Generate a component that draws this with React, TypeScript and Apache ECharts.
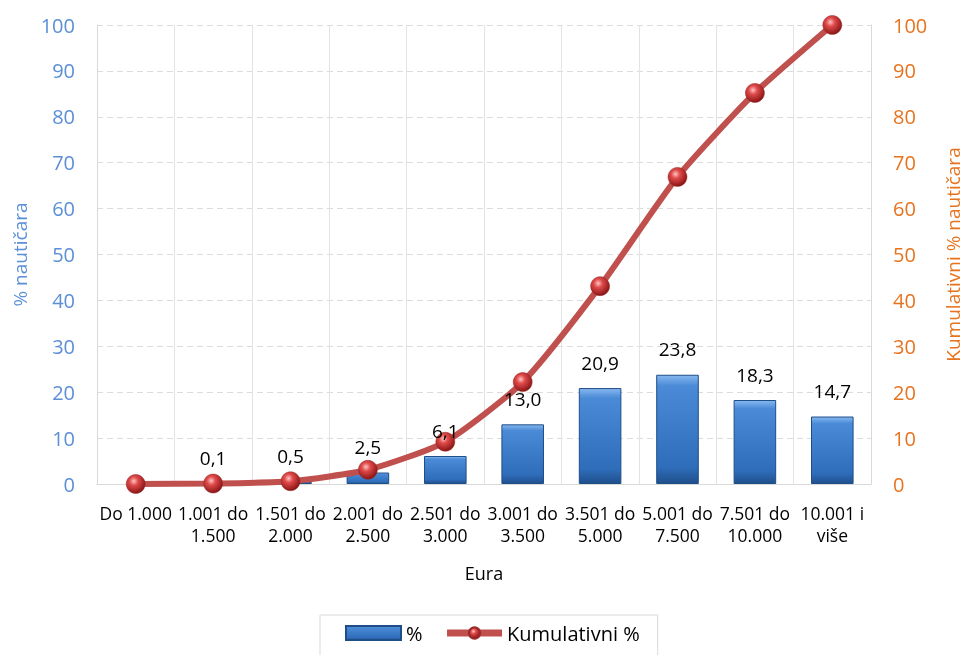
import React, { useEffect, useRef } from "react";
import * as echarts from "echarts";

const categories = [
  "Do 1.000",
  "1.001 do\n1.500",
  "1.501 do\n2.000",
  "2.001 do\n2.500",
  "2.501 do\n3.000",
  "3.001 do\n3.500",
  "3.501 do\n5.000",
  "5.001 do\n7.500",
  "7.501 do\n10.000",
  "10.001 i\nviše",
];
const percentValues = [0.0, 0.1, 0.5, 2.5, 6.1, 13.0, 20.9, 23.8, 18.3, 14.7];
const cumulativeValues = [0.0, 0.1, 0.6, 3.1, 9.2, 22.2, 43.1, 66.9, 85.2, 100.0];
const showBarLabel = [false, true, true, true, true, true, true, true, true, true];

const FONT = "'Open Sans', 'Noto Sans', sans-serif";

export default function App() {
  const ref = useRef<HTMLDivElement>(null);
  useEffect(() => {
    if (!ref.current) return;
    const chart = echarts.init(ref.current, null, { renderer: "svg" });
    const barGradient = new echarts.graphic.LinearGradient(0, 0, 0, 1, [
      { offset: 0, color: "#86B8F0" },
      { offset: 0.1, color: "#4A8AD6" },
      { offset: 0.85, color: "#2F6DBA" },
      { offset: 1, color: "#1F4F8C" },
    ]);
    const sphere = new echarts.graphic.RadialGradient(0.4, 0.35, 0.65, [
      { offset: 0, color: "#FFC4C4" },
      { offset: 0.35, color: "#E04A4A" },
      { offset: 1, color: "#8A1515" },
    ]);
    const labelFormatter = (p: any) => p.value.toFixed(1).replace(".", ",");
    chart.setOption({
      animation: false,
      textStyle: { fontFamily: FONT },
      grid: { left: 97, right: 94, top: 25, bottom: 171 },
      legend: {
        top: 615,
        left: 320,
        padding: [8, 18, 30, 25],
        borderColor: "#D9D9D9",
        borderWidth: 1,
        itemGap: 21,
        itemWidth: 55,
        itemHeight: 14,
        textStyle: { fontSize: 20, color: "#000", fontFamily: FONT },
        data: [
          { name: "%", icon: "rect" },
          { name: "Kumulativni %", lineStyle: { width: 7, color: "#C0504D" } },
        ],
      },
      xAxis: {
        type: "category",
        data: categories,
        name: "Eura",
        nameLocation: "middle",
        nameGap: 80,
        nameTextStyle: { fontSize: 18, color: "#000", fontFamily: FONT },
        axisLine: { show: true, lineStyle: { color: "#D9D9D9" } },
        axisTick: { show: false },
        axisLabel: { fontSize: 17.5, color: "#000", lineHeight: 22, margin: 18, interval: 0, fontFamily: FONT },
        splitLine: { show: true, lineStyle: { color: "#E3E3E3", type: "solid" } },
      },
      yAxis: [
        {
          type: "value",
          min: 0,
          max: 100,
          interval: 10,
          name: "% nautičara",
          nameLocation: "middle",
          nameGap: 68,
          nameTextStyle: { fontSize: 19, color: "#5B8FD6", fontFamily: FONT },
          axisLine: { show: true, lineStyle: { color: "#D9D9D9" } },
          axisTick: { show: false },
          axisLabel: { fontSize: 20, color: "#5B8FD6", margin: 22, fontFamily: FONT },
          splitLine: { show: true, lineStyle: { color: "#DCDCDC", type: [6, 4] } },
        },
        {
          type: "value",
          min: 0,
          max: 100,
          interval: 10,
          name: "Kumulativni % nautičara",
          nameLocation: "middle",
          nameGap: 72,
          nameRotate: 90,
          nameTextStyle: { fontSize: 19, color: "#E8731E", fontFamily: FONT },
          axisLine: { show: true, lineStyle: { color: "#D9D9D9" } },
          axisTick: { show: false },
          axisLabel: { fontSize: 20, color: "#E8731E", margin: 22, fontFamily: FONT },
          splitLine: { show: false },
        },
      ],
      series: [
        {
          name: "%",
          type: "bar",
          yAxisIndex: 0,
          barWidth: "55%",
          data: percentValues.map((v) => ({
            value: v,
            itemStyle: v === 0 ? { borderWidth: 0 } : undefined,
          })),
          itemStyle: { color: barGradient, borderColor: "#1F4E87", borderWidth: 1 },
          label: { show: false },
          z: 2,
        },
        {
          name: "Kumulativni %",
          type: "line",
          yAxisIndex: 1,
          data: cumulativeValues,
          smooth: 0.2,
          symbol: "circle",
          symbolSize: 19,
          lineStyle: { color: "#C0504D", width: 6 },
          itemStyle: { color: sphere, borderColor: "#9B2A2A", borderWidth: 0.5 },
          z: 5,
        },
        {
          name: "labels",
          type: "bar",
          yAxisIndex: 0,
          barWidth: "55%",
          barGap: "-100%",
          silent: true,
          data: percentValues.map((v, i) => ({
            value: v,
            label: { show: showBarLabel[i] },
          })),
          itemStyle: { color: "rgba(0,0,0,0)", borderWidth: 0 },
          label: {
            show: true,
            position: "top",
            distance: 16,
            fontSize: 19,
            color: "#000",
            fontFamily: FONT,
            formatter: labelFormatter,
          },
          z: 10,
        },
      ],
    });
    return () => chart.dispose();
  }, []);
  return (
    <div
      ref={ref}
      style={{ position: "fixed", left: 0, top: 0, width: 970, height: 655 }}
    />
  );
}
